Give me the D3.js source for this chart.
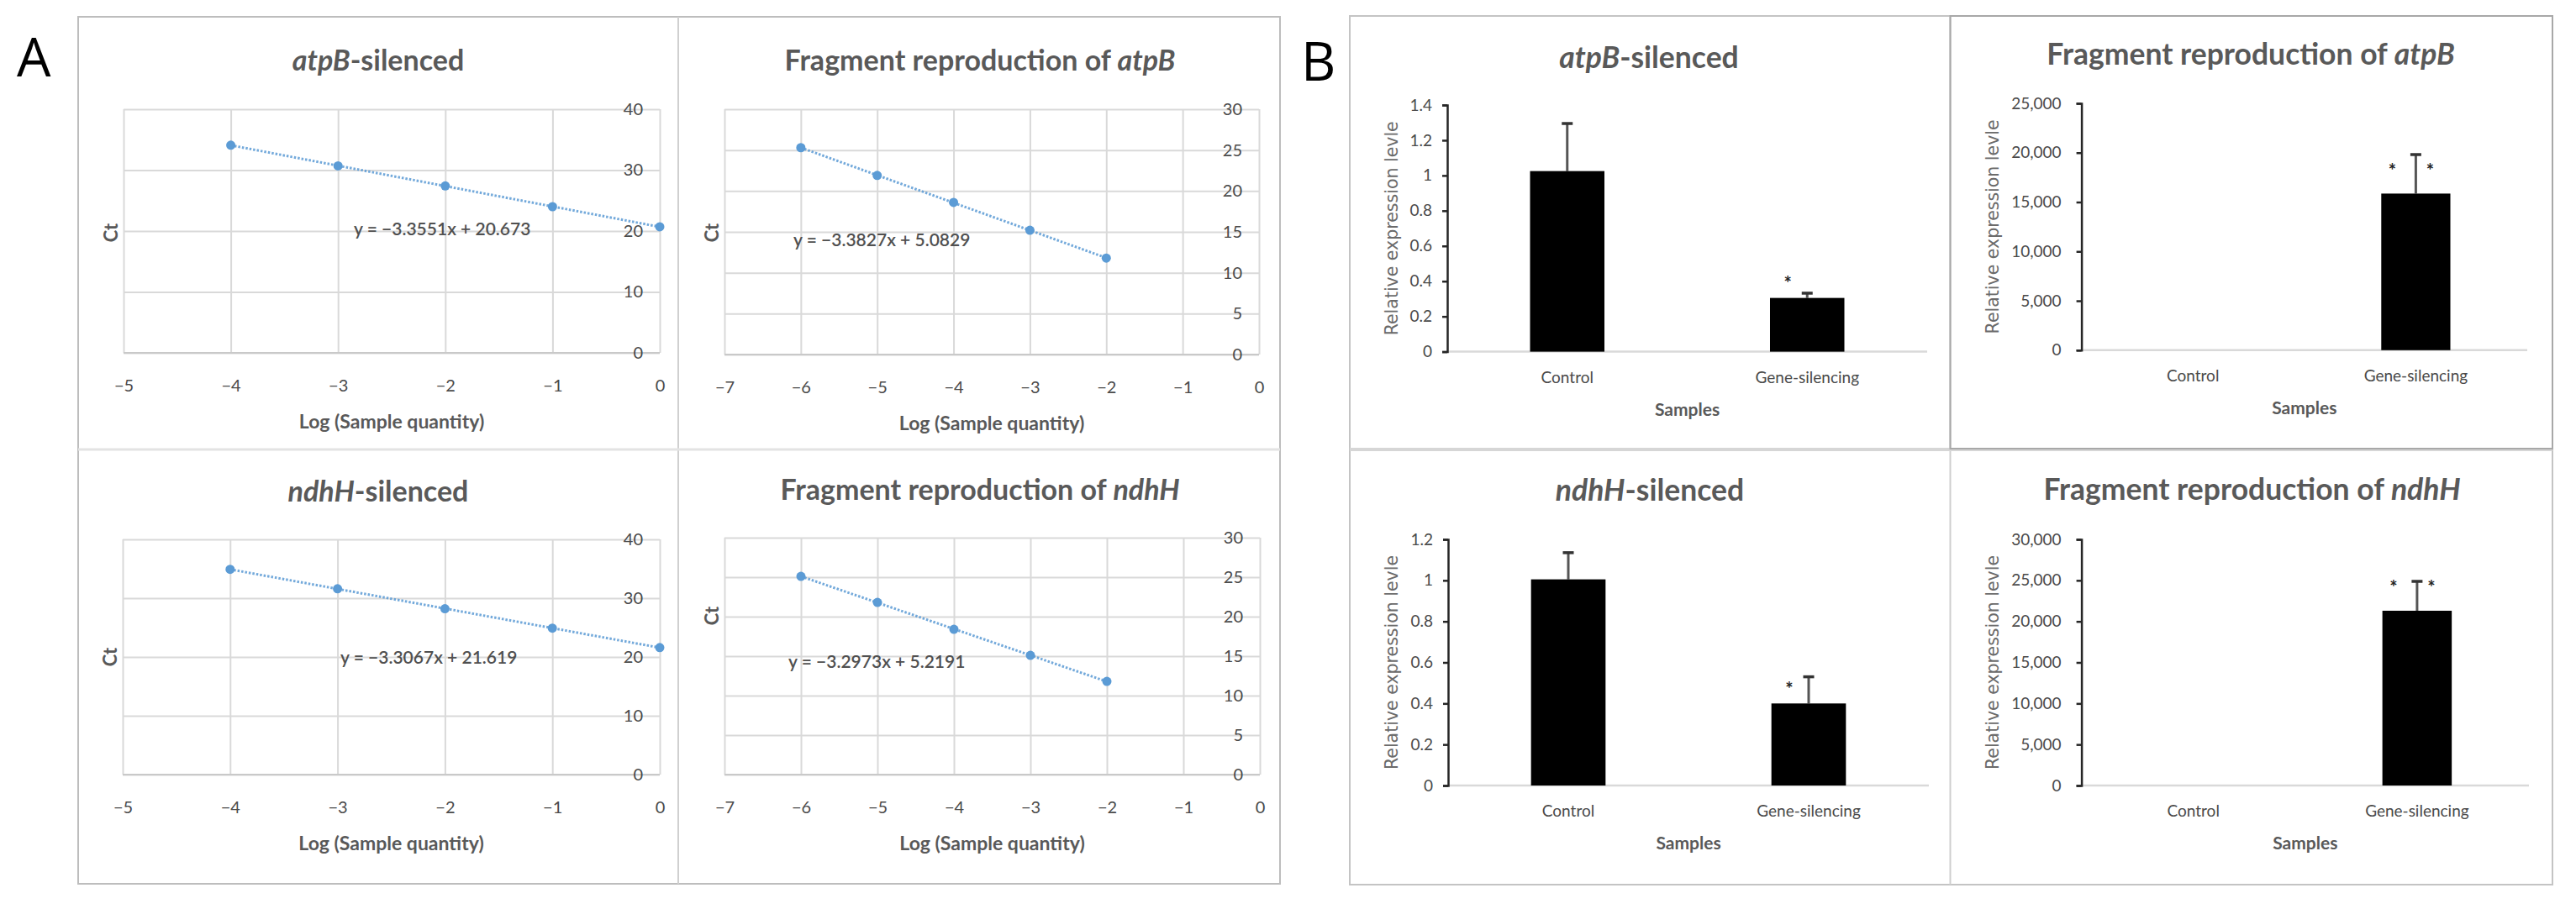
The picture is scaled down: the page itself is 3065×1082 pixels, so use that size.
<!DOCTYPE html>
<html lang="en">
  <head>
    <meta charset="UTF-8" />
    <title>atpB / ndhH silencing</title>
    <style type="text/css">
      body {
        margin: 0;
        background: #ffffff;
      }
      svg {
        display: block;
      }
      text {
        font-family: Lato, "Open Sans", sans-serif;
      }
    </style>
  </head>
  <body>
    <script src="https://cdnjs.cloudflare.com/ajax/libs/d3/7.8.5/d3.min.js"></script>
    <script>
      // A: standard curves, Ct against log(sample quantity)
      var logQtyAtpB = [-4, -3, -2, -1, 0];
      var ctAtpB = [34.1, 30.7, 27.4, 24.0, 20.7];
      var logQtyFragAtpB = [-6, -5, -4, -3, -2];
      var ctFragAtpB = [25.3, 21.9, 18.6, 15.2, 11.8];
      var logQtyNdhH = [-4, -3, -2, -1, 0];
      var ctNdhH = [34.9, 31.6, 28.2, 24.9, 21.6];
      var logQtyFragNdhH = [-6, -5, -4, -3, -2];
      var ctFragNdhH = [25.1, 21.8, 18.4, 15.1, 11.8];
      var equations = [
        "y = \u22123.3551x + 20.673",
        "y = \u22123.3827x + 5.0829",
        "y = \u22123.3067x + 21.619",
        "y = \u22123.2973x + 5.2191",
      ];

      // B: relative expression
      var samples = ["Control", "Gene-silencing"];
      var exprAtpB = [1.025, 0.305];
      var exprAtpBErr = [0.27, 0.027];
      var exprNdhH = [1.005, 0.4];
      var exprNdhHErr = [0.13, 0.13];
      var fragAtpB = [0, 15860];
      var fragAtpBErr = [0, 3950];
      var fragNdhH = [0, 21300];
      var fragNdhHErr = [0, 3580];
      var starsSilenced = [0, 1];
      var starsFragment = [0, 2];

      var textColor = "#595959";
      var tickColor = "#4a4a4a";
      var gridColor = "#d9d9d9";
      var blue = "#5b9bd5";

      var svg = d3.select("body").append("svg").attr("width", 3065).attr("height", 1082);

      function minusFmt(d) {
        return d < 0 ? "\u2212" + Math.abs(d) : String(d);
      }

      function styleAxis(a, size) {
        a.attr("font-family", null).attr("font-size", size);
        a.select(".domain").remove();
        a.selectAll("text").attr("fill", tickColor);
      }

      function addTitle(parts, x, y, size) {
        svg
          .append("text")
          .attr("x", x)
          .attr("y", y)
          .attr("text-anchor", "middle")
          .attr("font-size", size)
          .attr("font-weight", "bold")
          .attr("fill", textColor)
          .selectAll("tspan")
          .data(parts)
          .join("tspan")
          .attr("font-style", (d) => (d[1] ? "italic" : null))
          .text((d) => d[0]);
      }

      // ---- frames ----
      var frames = svg.append("g").attr("fill", "none");
      frames.append("rect").attr("x", 93).attr("y", 20).attr("width", 1430).attr("height", 1032)
        .attr("stroke", "#bdbdbd").attr("stroke-width", 2);
      frames.append("line").attr("x1", 807).attr("x2", 807).attr("y1", 20).attr("y2", 1052)
        .attr("stroke", "#d0d0d0").attr("stroke-width", 2);
      frames.append("line").attr("x1", 93).attr("x2", 1523).attr("y1", 535).attr("y2", 535)
        .attr("stroke", "#e3e3e3").attr("stroke-width", 3);
      frames.append("rect").attr("x", 1606).attr("y", 19).attr("width", 1431).attr("height", 1034)
        .attr("stroke", "#c4c4c4").attr("stroke-width", 2);
      frames.append("line").attr("x1", 2320.5).attr("x2", 2320.5).attr("y1", 19).attr("y2", 1053)
        .attr("stroke", "#cfcfcf").attr("stroke-width", 2);
      frames.append("line").attr("x1", 1606).attr("x2", 3037).attr("y1", 535).attr("y2", 535)
        .attr("stroke", "#d6d6d6").attr("stroke-width", 4);
      frames.append("rect").attr("x", 2320.5).attr("y", 19).attr("width", 716.5).attr("height", 515)
        .attr("stroke", "#a8a8a8").attr("stroke-width", 2);

      svg.append("text").attr("x", 20).attr("y", 91).attr("font-size", 64)
        .style("font-family", "'Open Sans', sans-serif").attr("fill", "#000").text("A");
      svg.append("text").attr("x", 1548).attr("y", 96).attr("font-size", 64)
        .style("font-family", "'Open Sans', sans-serif").attr("fill", "#000").text("B");

      // ---- A: scatter with linear trendline ----
      function scatterPanel(cfg) {
        var g = svg.append("g");
        var x = d3.scaleLinear().domain(cfg.xDomain).range([cfg.left, cfg.right]);
        var y = d3.scaleLinear().domain(cfg.yDomain).range([cfg.bottom, cfg.top]);
        var xt = d3.range(cfg.xDomain[0], cfg.xDomain[1] + 1);
        var yt = d3.range(cfg.yDomain[0], cfg.yDomain[1] + 0.01, cfg.yStep);

        g.append("g")
          .attr("transform", `translate(0,${cfg.bottom})`)
          .call(d3.axisBottom(x).tickValues(xt).tickSize(cfg.top - cfg.bottom).tickFormat(""))
          .call((a) => a.select(".domain").remove())
          .selectAll("line").attr("stroke", gridColor).attr("stroke-width", 2);
        g.append("g")
          .attr("transform", `translate(${cfg.left},0)`)
          .call(d3.axisLeft(y).tickValues(yt).tickSize(cfg.left - cfg.right).tickFormat(""))
          .call((a) => a.select(".domain").remove())
          .selectAll("line").attr("stroke", gridColor).attr("stroke-width", 2);
        g.append("line")
          .attr("x1", cfg.left).attr("x2", cfg.right)
          .attr("y1", y(0)).attr("y2", y(0))
          .attr("stroke", "#c9c9c9").attr("stroke-width", 2);

        g.append("g")
          .attr("transform", `translate(0,${cfg.bottom})`)
          .call(d3.axisBottom(x).tickValues(xt).tickSize(0).tickPadding(32).tickFormat(minusFmt))
          .call((a) => styleAxis(a, 20));
        g.append("g")
          .attr("transform", `translate(${cfg.right},0)`)
          .call(d3.axisLeft(y).tickValues(yt).tickSize(0).tickPadding(20))
          .call((a) => styleAxis(a, 20));

        // least-squares trendline through the points
        var mx = d3.mean(cfg.xs), my = d3.mean(cfg.ys);
        var slope =
          d3.sum(cfg.xs, (v, i) => (v - mx) * (cfg.ys[i] - my)) /
          d3.sum(cfg.xs, (v) => (v - mx) * (v - mx));
        var ends = d3.extent(cfg.xs);
        g.append("line")
          .attr("x1", x(ends[0])).attr("y1", y(my + slope * (ends[0] - mx)))
          .attr("x2", x(ends[1])).attr("y2", y(my + slope * (ends[1] - mx)))
          .attr("stroke", blue).attr("stroke-width", 3)
          .attr("stroke-dasharray", "2.5,2").attr("opacity", 0.85);

        g.selectAll("circle")
          .data(cfg.xs)
          .join("circle")
          .attr("cx", (d) => x(d))
          .attr("cy", (d, i) => y(cfg.ys[i]))
          .attr("r", 5.5)
          .attr("fill", blue);

        g.append("text")
          .attr("x", cfg.left + cfg.eqAt[0])
          .attr("y", cfg.top + cfg.eqAt[1])
          .attr("font-size", 21)
          .attr("font-weight", 600)
          .attr("fill", "#505050")
          .text(cfg.equation);

        g.append("text")
          .attr("transform", `translate(${cfg.left - 16},${cfg.ctY}) rotate(-90)`)
          .attr("text-anchor", "middle")
          .attr("dominant-baseline", "central")
          .attr("font-size", 22)
          .attr("font-weight", "bold")
          .attr("fill", textColor)
          .text("Ct");

        g.append("text")
          .attr("x", (cfg.left + cfg.right) / 2)
          .attr("y", cfg.bottom + 90)
          .attr("text-anchor", "middle")
          .attr("font-size", 23)
          .attr("font-weight", "bold")
          .attr("fill", textColor)
          .text("Log (Sample quantity)");

        addTitle(cfg.title, cfg.titleAt[0], cfg.titleAt[1], 34);
      }

      scatterPanel({
        left: 147, right: 785, top: 130, bottom: 420,
        xDomain: [-5, 0], yDomain: [0, 40], yStep: 10,
        xs: logQtyAtpB, ys: ctAtpB, equation: equations[0],
        eqAt: [274, 150], ctY: 277,
        title: [["atpB", true], ["-silenced", false]], titleAt: [450, 84],
      });
      scatterPanel({
        left: 862, right: 1498, top: 130, bottom: 422,
        xDomain: [-7, 0], yDomain: [0, 30], yStep: 5,
        xs: logQtyFragAtpB, ys: ctFragAtpB, equation: equations[1],
        eqAt: [82, 163], ctY: 277,
        title: [["Fragment reproduction of ", false], ["atpB", true]], titleAt: [1166, 84],
      });
      scatterPanel({
        left: 146, right: 785, top: 642, bottom: 922,
        xDomain: [-5, 0], yDomain: [0, 40], yStep: 10,
        xs: logQtyNdhH, ys: ctNdhH, equation: equations[2],
        eqAt: [259, 148], ctY: 782,
        title: [["ndhH", true], ["-silenced", false]], titleAt: [450, 597],
      });
      scatterPanel({
        left: 862, right: 1499, top: 640, bottom: 922,
        xDomain: [-7, 0], yDomain: [0, 30], yStep: 5,
        xs: logQtyFragNdhH, ys: ctFragNdhH, equation: equations[3],
        eqAt: [76, 155], ctY: 733,
        title: [["Fragment reproduction of ", false], ["ndhH", true]], titleAt: [1166, 595],
      });

      // ---- B: bar charts with error bars ----
      function barPanel(cfg) {
        var g = svg.append("g");
        var x = d3.scaleBand().domain(samples).range([cfg.left, cfg.right])
          .paddingInner(0.69).paddingOuter(0.345);
        var y = d3.scaleLinear().domain([0, cfg.yMax]).range([cfg.bottom, cfg.top]);
        var n = Math.round(cfg.yMax / cfg.yStep);
        var yt = d3.range(0, n + 1).map((i) => +(i * cfg.yStep).toFixed(2));
        var rows = samples.map((s, i) => ({
          s: s, v: cfg.values[i], e: cfg.errors[i], stars: cfg.stars[i],
        }));

        g.append("line")
          .attr("x1", cfg.left).attr("x2", cfg.right)
          .attr("y1", y(0)).attr("y2", y(0))
          .attr("stroke", gridColor).attr("stroke-width", 2.5);

        var ya = g.append("g")
          .attr("transform", `translate(${cfg.left},0)`)
          .call(d3.axisLeft(y).tickValues(yt).tickSize(6).tickPadding(cfg.tickPad).tickFormat(cfg.fmt));
        ya.attr("font-family", null).attr("font-size", 19);
        ya.select(".domain").attr("stroke", "#262626").attr("stroke-width", 2.5);
        ya.selectAll("line").attr("stroke", "#262626").attr("stroke-width", 2.5);
        ya.selectAll("text").attr("fill", tickColor);

        g.append("g")
          .attr("transform", `translate(0,${cfg.bottom})`)
          .call(d3.axisBottom(x).tickSize(0).tickPadding(24))
          .call((a) => styleAxis(a, 19));

        var bars = rows.filter((d) => d.v > 0);
        g.selectAll(".err")
          .data(bars)
          .join("line")
          .attr("x1", (d) => x(d.s) + x.bandwidth() / 2)
          .attr("x2", (d) => x(d.s) + x.bandwidth() / 2)
          .attr("y1", (d) => y(d.v))
          .attr("y2", (d) => y(d.v + d.e))
          .attr("stroke", "#555555").attr("stroke-width", 3);
        g.selectAll(".cap")
          .data(bars)
          .join("line")
          .attr("x1", (d) => x(d.s) + x.bandwidth() / 2 - 6.5)
          .attr("x2", (d) => x(d.s) + x.bandwidth() / 2 + 6.5)
          .attr("y1", (d) => y(d.v + d.e))
          .attr("y2", (d) => y(d.v + d.e))
          .attr("stroke", "#333333").attr("stroke-width", 3.5);
        g.selectAll("rect")
          .data(bars)
          .join("rect")
          .attr("x", (d) => x(d.s))
          .attr("width", x.bandwidth())
          .attr("y", (d) => y(d.v))
          .attr("height", (d) => y(0) - y(d.v))
          .attr("fill", "#000000");

        bars.forEach((d) => {
          var cx = x(d.s) + x.bandwidth() / 2;
          cfg.starDx.slice(0, d.stars).forEach((dx) => {
            g.append("text")
              .attr("x", cx + dx)
              .attr("y", y(d.v) - cfg.starDy)
              .attr("text-anchor", "middle")
              .attr("dominant-baseline", "central")
              .attr("font-size", 22)
              .attr("font-weight", "bold")
              .attr("fill", "#222222")
              .text("*");
          });
        });

        g.append("text")
          .attr("transform", `translate(${cfg.yTitleX},${(cfg.top + cfg.bottom) / 2}) rotate(-90)`)
          .attr("text-anchor", "middle")
          .attr("dominant-baseline", "central")
          .style("font-family", "'DejaVu Sans', sans-serif")
          .attr("font-size", 20.5)
          .attr("fill", "#6b6b6b")
          .text("Relative expression levle");

        g.append("text")
          .attr("x", (cfg.left + cfg.right) / 2)
          .attr("y", cfg.bottom + 76)
          .attr("text-anchor", "middle")
          .attr("font-size", 21)
          .attr("font-weight", "bold")
          .attr("fill", textColor)
          .text("Samples");

        addTitle(cfg.title, cfg.titleAt[0], cfg.titleAt[1], 35.5);
      }

      var fmtDec = (d) => String(d);
      var fmtThou = d3.format(",");

      barPanel({
        left: 1722, right: 2293, top: 125, bottom: 418.6,
        yMax: 1.4, yStep: 0.2, fmt: fmtDec, tickPad: 12,
        values: exprAtpB, errors: exprAtpBErr, stars: starsSilenced,
        starDx: [-23], starDy: 18, yTitleX: 1655.5,
        title: [["atpB", true], ["-silenced", false]], titleAt: [1962, 81],
      });
      barPanel({
        left: 2476.6, right: 3007, top: 123, bottom: 416.8,
        yMax: 25000, yStep: 5000, fmt: fmtThou, tickPad: 18,
        values: fragAtpB, errors: fragAtpBErr, stars: starsFragment,
        starDx: [-28, 17], starDy: 28, yTitleX: 2370.7,
        title: [["Fragment reproduction of ", false], ["atpB", true]], titleAt: [2678, 77],
      });
      barPanel({
        left: 1723, right: 2295, top: 642, bottom: 935,
        yMax: 1.2, yStep: 0.2, fmt: fmtDec, tickPad: 12,
        values: exprNdhH, errors: exprNdhHErr, stars: starsSilenced,
        starDx: [-23], starDy: 18, yTitleX: 1655.5,
        title: [["ndhH", true], ["-silenced", false]], titleAt: [1963, 596],
      });
      barPanel({
        left: 2476.6, right: 3009, top: 642, bottom: 935,
        yMax: 30000, yStep: 5000, fmt: fmtThou, tickPad: 18,
        values: fragNdhH, errors: fragNdhHErr, stars: starsFragment,
        starDx: [-28, 17], starDy: 28, yTitleX: 2370.7,
        title: [["Fragment reproduction of ", false], ["ndhH", true]], titleAt: [2679.5, 595],
      });
    </script>
  </body>
</html>
